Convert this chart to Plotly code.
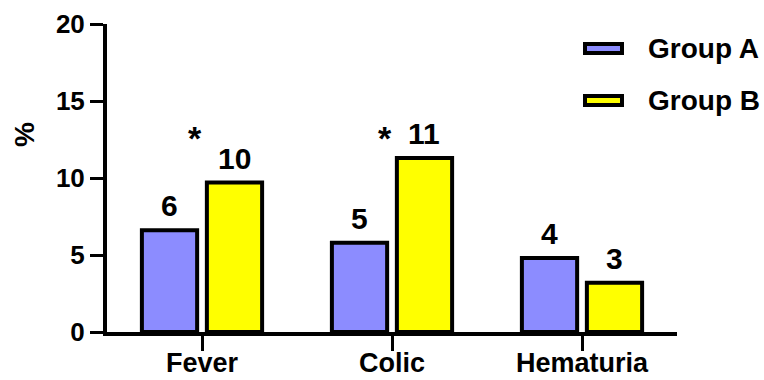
import plotly.graph_objects as go

# Symptom frequencies (%) per group, with patient counts shown above each bar
categories = ["Fever", "Colic", "Hematuria"]
groups = ["Group A", "Group B"]
pct_a = [6.6, 5.8, 4.8]
pct_b = [9.7, 11.3, 3.2]
n_a = [6, 5, 4]
n_b = [10, 11, 3]
significant = ["Fever", "Colic"]  # categories marked with *
y_ticks = [0, 5, 10, 15, 20]
y_label = "%"

FONT = "Liberation Sans"
COLORS = ["#8C8CFF", "#FFFF00"]

W, H = 764, 380
ML, MR, MT, MB = 107, 87, 24, 48
pw, ph = W - ML - MR, H - MT - MB
slot = pw / len(categories) * (1 - 0.316) / len(groups)  # px per bar slot

fig = go.Figure()
for gi, (name, vals, counts, color) in enumerate(
        zip(groups, [pct_a, pct_b], [n_a, n_b], COLORS)):
    fig.add_trace(go.Bar(
        x=categories, y=vals, name=name,
        marker=dict(color=color, line=dict(color="black", width=4)),
        cliponaxis=False, showlegend=False,
    ))
    # count labels above each bar
    for cat, v, c in zip(categories, vals, counts):
        fig.add_annotation(x=cat, y=v, text=str(c), showarrow=False,
                           xshift=(gi - 0.5) * slot, yshift=6, yanchor="bottom",
                           font=dict(family=FONT, size=30, color="black", weight="bold"))

# significance markers
for cat in significant:
    fig.add_annotation(x=cat, y=12.6, text="*", showarrow=False, xshift=-7,
                       yanchor="middle",
                       font=dict(family=FONT, size=34, color="black", weight="bold"))

# pixel -> paper helpers for the legend and axis title
def px_x(x): return (x - ML) / pw
def px_y(y): return (H - MB - y) / ph

# custom legend with wide swatches
for i, (name, color) in enumerate(zip(groups, COLORS)):
    cy = 48.5 + i * 52
    fig.add_shape(type="rect", xref="paper", yref="paper",
                  x0=px_x(585), x1=px_x(622), y0=px_y(cy - 4.5), y1=px_y(cy + 4.5),
                  fillcolor=color, line=dict(color="black", width=4))
    fig.add_annotation(xref="paper", yref="paper", x=px_x(646), y=px_y(cy),
                       text=name, showarrow=False, xanchor="left", yanchor="middle",
                       font=dict(family=FONT, size=28, color="black", weight="bold"))

# y-axis title, set high beside the axis
fig.add_annotation(xref="paper", yref="paper", x=px_x(24), y=px_y(135),
                   text=y_label, textangle=-90, showarrow=False,
                   xanchor="center", yanchor="middle",
                   font=dict(family=FONT, size=28, color="black", weight="bold"))

fig.update_layout(
    width=W, height=H, margin=dict(l=ML, r=MR, t=MT, b=MB, autoexpand=False),
    paper_bgcolor="white", plot_bgcolor="white",
    barmode="group", bargap=0.316, bargroupgap=0.15,
    font=dict(family=FONT, color="black"),
    xaxis=dict(range=[-0.5, 2.5], showline=True, linecolor="black", linewidth=4,
               ticks="outside", ticklen=15, tickwidth=3, tickcolor="black",
               ticklabelstandoff=-11,
               tickfont=dict(family=FONT, size=27, color="black", weight="bold"),
               showgrid=False, zeroline=False, automargin=False),
    yaxis=dict(range=[0, 20], tickvals=y_ticks, showline=True, linecolor="black",
               linewidth=4, ticks="outside", ticklen=13, tickwidth=3, tickcolor="black",
               tickfont=dict(family=FONT, size=26, color="black", weight="bold"),
               showgrid=False, zeroline=False, automargin=False),
)

fig.write_html("out.html")
